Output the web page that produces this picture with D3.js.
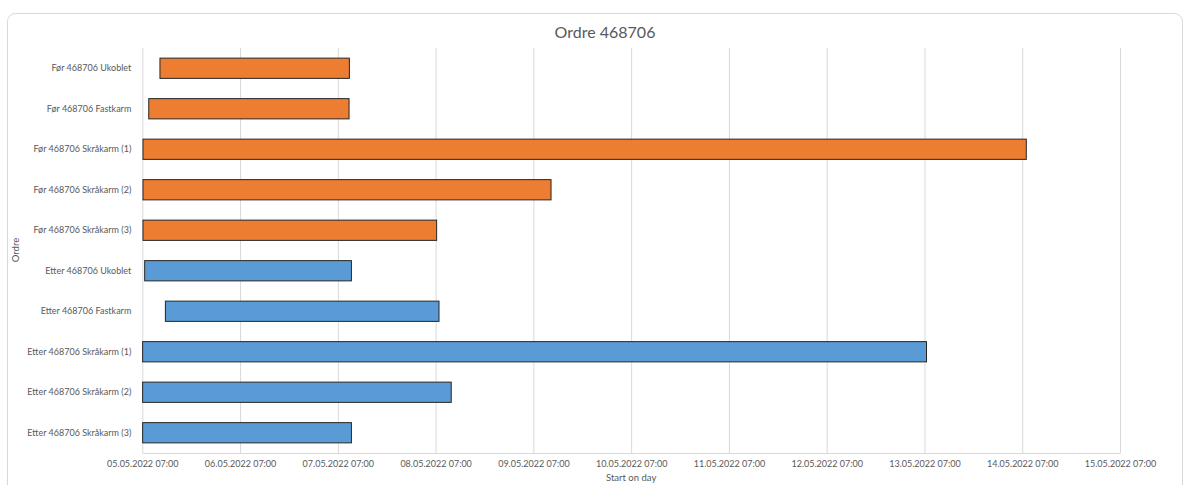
<!DOCTYPE html>
<html>
<head>
<meta charset="utf-8">
<script src="https://cdn.jsdelivr.net/npm/d3@7"></script>
<style>
  html, body { margin: 0; padding: 0; background: #fff; }
  svg { display: block; }
  text { font-family: Lato, "Open Sans", sans-serif; fill: #595959; }
</style>
</head>
<body>
<svg id="chart" width="1190" height="485"></svg>
<script>
// ---- data ----
const categories = [
  "Før 468706 Ukoblet",
  "Før 468706 Fastkarm",
  "Før 468706 Skråkarm (1)",
  "Før 468706 Skråkarm (2)",
  "Før 468706 Skråkarm (3)",
  "Etter 468706 Ukoblet",
  "Etter 468706 Fastkarm",
  "Etter 468706 Skråkarm (1)",
  "Etter 468706 Skråkarm (2)",
  "Etter 468706 Skråkarm (3)"
];
const startTimes = [
  "2022-05-05 11:20", "2022-05-05 08:35", "2022-05-05 07:10", "2022-05-05 07:10", "2022-05-05 07:10",
  "2022-05-05 07:35", "2022-05-05 12:40", "2022-05-05 07:05", "2022-05-05 07:05", "2022-05-05 07:05"
];
const endTimes = [
  "2022-05-07 09:50", "2022-05-07 09:45", "2022-05-14 08:00", "2022-05-09 11:20", "2022-05-08 07:15",
  "2022-05-07 10:20", "2022-05-08 07:50", "2022-05-13 07:30", "2022-05-08 10:50", "2022-05-07 10:20"
];
const groups = ["Før", "Før", "Før", "Før", "Før", "Etter", "Etter", "Etter", "Etter", "Etter"];
const tickLabels = [
  "05.05.2022 07:00", "06.05.2022 07:00", "07.05.2022 07:00", "08.05.2022 07:00",
  "09.05.2022 07:00", "10.05.2022 07:00", "11.05.2022 07:00", "12.05.2022 07:00",
  "13.05.2022 07:00", "14.05.2022 07:00", "15.05.2022 07:00"
];
const title = "Ordre 468706";
const xTitle = "Start on day";
const yTitle = "Ordre";

// ---- chart ----
(function () {
const parse = d3.utcParse("%Y-%m-%d %H:%M");
const parseTick = d3.utcParse("%d.%m.%Y %H:%M");
const fmtTick = d3.utcFormat("%d.%m.%Y %H:%M");
const tickDates = tickLabels.map(parseTick);

const svg = d3.select("#chart");
const mLeft = 142.3, mRight = 1120, mTop = 48, mBottom = 453;

// outer chart border
svg.append("rect")
  .attr("x", 7.5).attr("y", 13.5).attr("width", 1175).attr("height", 500)
  .attr("rx", 8).attr("ry", 8)
  .attr("fill", "#fff").attr("stroke", "#d9d9d9").attr("stroke-width", 1);

const x = d3.scaleUtc()
  .domain([tickDates[0], tickDates[tickDates.length - 1]])
  .range([mLeft, mRight]);

const y = d3.scaleBand()
  .domain(categories)
  .range([mTop, mBottom])
  .paddingInner(0.5)
  .paddingOuter(0.25);

const color = d3.scaleOrdinal().domain(["Før", "Etter"]).range(["#ED7D31", "#5B9BD5"]);

// gridlines + x axis
const xAxis = d3.axisBottom(x)
  .tickValues(tickDates)
  .tickFormat(fmtTick)
  .tickSize(-(mBottom - mTop))
  .tickSizeOuter(0)
  .tickPadding(8);

const gx = svg.append("g").attr("transform", `translate(0,${mBottom})`).call(xAxis);
gx.select(".domain").attr("stroke", "#d9d9d9");
gx.selectAll(".tick line").attr("stroke", "#d9d9d9").attr("stroke-width", 1);
gx.selectAll(".tick text")
  .attr("fill", "#595959")
  .style("font-size", "9px")
  .style("font-family", "Lato, sans-serif");

// bars
const bars = categories.map((c, i) => ({
  cat: c, group: groups[i], s: parse(startTimes[i]), e: parse(endTimes[i])
}));
svg.append("g").selectAll("rect").data(bars).join("rect")
  .attr("x", d => x(d.s))
  .attr("y", d => y(d.cat))
  .attr("width", d => x(d.e) - x(d.s))
  .attr("height", y.bandwidth())
  .attr("fill", d => color(d.group))
  .attr("stroke", "#262626")
  .attr("stroke-width", 1);

// y axis labels
const yAxis = d3.axisLeft(y).tickSize(0).tickPadding(11);
const gy = svg.append("g").attr("transform", `translate(${mLeft},0)`).call(yAxis);
gy.select(".domain").remove();
gy.selectAll(".tick text")
  .attr("fill", "#595959")
  .style("font-size", "9px")
  .style("font-family", "Lato, sans-serif");

// titles
svg.append("text")
  .attr("x", 605).attr("y", 38)
  .attr("text-anchor", "middle")
  .style("font-size", "16px")
  .text(title);

svg.append("text")
  .attr("x", (mLeft + mRight) / 2).attr("y", 481)
  .attr("text-anchor", "middle")
  .style("font-size", "9.5px")
  .text(xTitle);

svg.append("text")
  .attr("transform", `translate(19,250) rotate(-90)`)
  .attr("text-anchor", "middle")
  .style("font-size", "9.5px")
  .text(yTitle);
})();
</script>
</body>
</html>
